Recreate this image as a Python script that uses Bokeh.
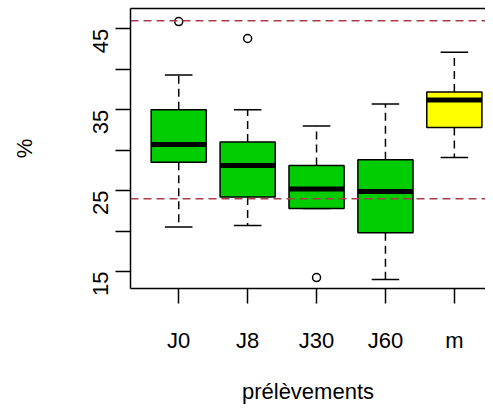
import math
from bokeh.plotting import figure
from bokeh.models import FixedTicker, Range1d, LinearAxis, Span
from bokeh.embed import file_html
from bokeh.resources import INLINE

# ---- data ----
groups = ["J0", "J8", "J30", "J60", "m"]
positions = [1, 2, 3, 4, 5]
lower_whisker = [20.5, 20.7, 22.8, 14.0, 29.1]
q1 = [28.5, 24.2, 22.8, 19.8, 32.8]
median = [30.7, 28.1, 25.2, 24.9, 36.2]
q3 = [35.0, 31.0, 28.1, 28.8, 37.2]
upper_whisker = [39.3, 35.0, 33.0, 35.7, 42.1]
box_colors = ["#00cd00", "#00cd00", "#00cd00", "#00cd00", "#ffff00"]
outlier_pos = [1, 2, 3]
outlier_val = [45.9, 43.8, 14.25]
ref_lines = [46, 24]
y_ticks = [15, 20, 25, 30, 35, 40, 45]
y_labels = ["15", "", "25", "", "35", "", "45"]
x_title = "prélèvements"
y_title = "%"

FONT = "Liberation Sans"

p = figure(width=485, height=407, output_backend="svg", toolbar_location=None,
           x_range=Range1d(0.3, 5.452), y_range=Range1d(12.9, 47.51),
           min_border_left=130, min_border_right=0, min_border_top=8,
           min_border_bottom=119)
p.outline_line_color = None
p.grid.visible = False
p.background_fill_color = "white"
p.border_fill_color = "white"

# reference lines
for v in ref_lines:
    p.add_layout(Span(location=v, dimension="width", line_color="#a83c4a",
                      line_width=1.5, line_dash="8 5"))

box_w = 0.8
cap_w = 0.4
x0 = [x - cap_w / 2 for x in positions]
x1 = [x + cap_w / 2 for x in positions]
# whiskers
p.segment(positions, q3, positions, upper_whisker, line_color="black",
          line_width=1.5, line_dash="8 5")
p.segment(positions, q1, positions, lower_whisker, line_color="black",
          line_width=1.5, line_dash="8 5")
p.segment(x0, upper_whisker, x1, upper_whisker, line_color="black", line_width=1.5)
p.segment(x0, lower_whisker, x1, lower_whisker, line_color="black", line_width=1.5)
# boxes
p.vbar(x=positions, width=box_w, bottom=q1, top=q3, fill_color=box_colors,
       line_color="black", line_width=1.5)
mx0 = [x - box_w / 2 for x in positions]
mx1 = [x + box_w / 2 for x in positions]
p.segment(mx0, median, mx1, median, line_color="black", line_width=5)
# outliers
p.scatter(outlier_pos, outlier_val, marker="circle", size=8, fill_color=None,
          line_color="black", line_width=1.5)

# axes
xa = p.xaxis[0]
xa.ticker = FixedTicker(ticks=positions)
xa.major_label_overrides = {pos: g for pos, g in zip(positions, groups)}
xa.axis_label = x_title
ya = p.yaxis[0]
ya.ticker = FixedTicker(ticks=y_ticks)
ya.major_label_overrides = {t: l for t, l in zip(y_ticks, y_labels)}
ya.major_label_orientation = math.pi / 2
ya.axis_label = y_title
for ax in (xa, ya):
    ax.axis_line_color = "black"
    ax.axis_line_width = 1.5
    ax.major_tick_line_color = "black"
    ax.major_tick_line_width = 1.5
    ax.major_tick_out = 15
    ax.major_tick_in = 0
    ax.minor_tick_line_color = None
    ax.major_label_text_font = FONT
    ax.major_label_text_font_size = "22px"
    ax.major_label_text_color = "black"
    ax.axis_label_text_font = FONT
    ax.axis_label_text_font_size = "22px"
    ax.axis_label_text_font_style = "normal"
    ax.axis_label_text_color = "black"
xa.major_label_standoff = 24
xa.axis_label_standoff = 23
ya.major_label_standoff = 15
ya.axis_label_standoff = 46

# top border of the plot box
top = LinearAxis(ticker=FixedTicker(ticks=[]), axis_line_color="black",
                 axis_line_width=1.5, major_tick_out=0, major_tick_in=0,
                 minor_tick_out=0, minor_tick_in=0, major_label_standoff=0,
                 major_label_text_font_size="0px")
p.add_layout(top, "above")

open("out.html", "w").write(file_html(p, INLINE))
